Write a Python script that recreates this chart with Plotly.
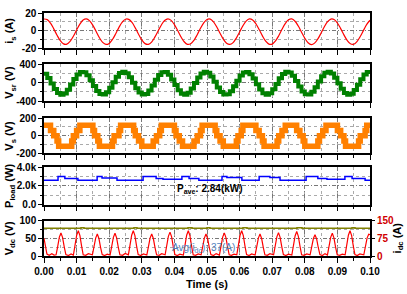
import numpy as np
import plotly.graph_objects as go

# ---------------- data ----------------
# sample grids in milliseconds
t_1ms = np.arange(0, 101) * 1.0
t_05ms = np.arange(0, 201) * 0.5

# source current i_s (A), 1 ms samples
i_s = [13.2, 12.5, 8.5, 2.1, -5.1, -11.2, -14.9, -15.2, -12.1, -6.3,
       0.8, 7.4, 12.0, 13.3, 11.1, 6.0, -0.9, -7.9, -13.2, -15.5,
       -14.3, -9.9, -3.4, 3.8, 9.7, 13.0, 12.8, 9.3, 3.2, -3.9,
       -10.4, -14.6, -15.4, -12.8, -7.3, -0.3, 6.5, 11.5, 13.4, 11.7,
       6.9, 0.2, -6.9, -12.5, -15.4, -14.7, -10.8, -4.5, 2.7, 8.9,
       12.7, 13.1, 10.0, 4.2, -2.8, -9.5, -14.1, -15.5, -13.4, -8.3,
       -1.4, 5.5, 10.9, 13.3, 12.2, 7.9, 1.3, -5.8, -11.8, -15.1,
       -15.1, -11.6, -5.6, 1.6, 8.0, 12.3, 13.3, 10.7, 5.3, -1.7,
       -8.5, -13.6, -15.6, -14.0, -9.3, -2.6, 4.5, 10.2, 13.1, 12.6,
       8.7, 2.4, -4.7, -11.0, -14.8, -15.3, -12.3, -6.6, 0.4, 7.2,
       11.8]

# series converter voltage V_sr (V), 1 ms samples
v_sr = [196, 103, -17, -136, -224, -260, -234, -154, -39, 84,
        183, 236, 228, 162, 54, -69, -178, -246, -257, -207,
        -109, 14, 130, 212, 240, 207, 121, 3, -119, -213,
        -258, -243, -170, -58, 65, 170, 231, 233, 176, 73,
        -50, -163, -239, -259, -218, -126, -6, 113, 202, 240,
        216, 137, 22, -101, -201, -255, -249, -184, -77, 46,
        156, 225, 237, 188, 91, -31, -147, -231, -260, -228,
        -143, -26, 96, 191, 238, 223, 152, 41, -82, -188,
        -250, -254, -198, -96, 27, 141, 218, 239, 200, 109,
        -11, -131, -221, -260, -237, -160, -45, 78, 179, 234,
        230]

# converter voltage V_s (V), 0.5 ms samples
v_s = [120, 120, 120, 120, 60, 60, 0, 0, -60,
       -120, -120, -120, -120, -120, -120, -120, -120, -60, 0, 0, 60, 60,
       120, 120, 120, 120, 120, 120, 120, 120, 60, 0, 0, -60,
       -120, -120, -120, -120, -120, -120, -120, -120, -60, 0, 0, 0, 60,
       120, 120, 120, 120, 120, 120, 120, 120, 60, 0, 0, -60, -60,
       -120, -120, -120, -120, -120, -120, -120, -60, -60, 0, 0, 60,
       120, 120, 120, 120, 120, 120, 120, 120, 60, 0, 0, -60, -60,
       -120, -120, -120, -120, -120, -120, -120, -60, -60, 0, 0, 60,
       120, 120, 120, 120, 120, 120, 120, 120, 60, 0, 0, -60, -60,
       -120, -120, -120, -120, -120, -120, -120, -120, -60, 0, 0, 60,
       120, 120, 120, 120, 120, 120, 120, 120, 60, 60, 0, 0, -60,
       -120, -120, -120, -120, -120, -120, -120, -120, -60, 0, 0, 60, 60,
       120, 120, 120, 120, 120, 120, 120, 60, 60, 0, 0, -60,
       -120, -120, -120, -120, -120, -120, -120, -120, -60, 0, 0, 60, 60,
       120, 120, 120, 120, 120, 120, 120, 60, 60, 0, 0, -60,
       -120, -120, -120, -120, -120, -120, -120, -120, -60, 0, 0, 0, 60,
       120, 120, 120]

# load power (W), step changes at these times (s)
p_t = [0, 0.0043, 0.0064, 0.0104, 0.0163, 0.0178, 0.0224, 0.0304, 0.0344,
       0.0365, 0.0423, 0.0445, 0.0475, 0.0546, 0.0561, 0.0607, 0.0660,
       0.0693, 0.0724, 0.0804, 0.0840, 0.0868, 0.0923, 0.0945, 0.0985, 0.1]
p_load = [2600, 3000, 2800, 2600, 3000, 2850, 2600, 3000, 2800,
          2700, 3000, 2800, 2600, 3000, 2900, 2600, 3000,
          2900, 2600, 3000, 2800, 2700, 3000, 2800, 2600, 2600]

# dc-link voltage (V)
vdc_t = [0, 0.01135, 0.01227, 0.0276, 0.02853, 0.04417, 0.0454, 0.05, 0.0509,
         0.06104, 0.06227, 0.0776, 0.07914, 0.09448, 0.0954, 0.1]
v_dc = [78, 80, 78, 80, 78, 80, 78, 80, 78, 80, 78, 80, 78, 80, 78, 78]

# dc current i_dc (A), times in ms
idc_t = [0, 0.4, 0.9, 1.6, 2.4, 3.1,
         3.71, 4.21, 4.71, 5.21, 5.71, 6.21, 6.71, 7.5, 8.3,
         9.02, 9.52, 10.02, 10.52, 11.02, 11.52, 12.02, 12.8, 13.6,
         14.85, 15.35, 15.85, 16.35, 16.85, 17.35, 17.85, 18.6, 19.4,
         20.28, 20.78, 21.28, 21.78, 22.28, 22.78, 23.28, 24.1, 24.9,
         25.89, 26.39, 26.89, 27.39, 27.89, 28.39, 28.89, 29.7, 30.5,
         31.54, 32.04, 32.54, 33.04, 33.54, 34.04, 34.54, 35.3, 36.1,
         37.15, 37.65, 38.15, 38.65, 39.15, 39.65, 40.15, 40.9, 41.7,
         42.76, 43.26, 43.76, 44.26, 44.76, 45.26, 45.76, 46.5, 47.3,
         48.19, 48.69, 49.19, 49.69, 50.19, 50.69, 51.19, 52.0, 52.8,
         53.81, 54.31, 54.81, 55.31, 55.81, 56.31, 56.81, 57.5, 58.3,
         59.14, 59.64, 60.14, 60.64, 61.14, 61.64, 62.14, 62.9, 63.7,
         64.76, 65.26, 65.76, 66.26, 66.76, 67.26, 67.76, 68.5, 69.3,
         70.43, 70.93, 71.43, 71.93, 72.43, 72.93, 73.43, 74.2, 75.0,
         76.02, 76.52, 77.02, 77.52, 78.02, 78.52, 79.02, 79.8, 80.6,
         81.63, 82.13, 82.63, 83.13, 83.63, 84.13, 84.63, 85.4, 86.2,
         86.94, 87.44, 87.94, 88.44, 88.94, 89.44, 89.94, 90.7, 91.5,
         92.37, 92.87, 93.37, 93.87, 94.37, 94.87, 95.37, 96.1, 96.9,
         98.1, 98.6, 99.1, 99.6, 100.0]
i_dc = [75, 42, 8, 3, 10, 4,
        5, 41, 80, 98, 78, 39, 6, 2, 9,
        4, 45, 88, 107, 86, 43, 5, 3, 10,
        5, 39, 76, 93, 74, 37, 6, 2, 8,
        4, 40, 79, 96, 77, 38, 5, 3, 11,
        5, 45, 88, 107, 86, 43, 6, 2, 9,
        4, 39, 76, 93, 74, 37, 5, 3, 10,
        5, 42, 83, 101, 81, 40, 6, 2, 8,
        4, 45, 88, 107, 86, 43, 5, 3, 9,
        5, 39, 76, 93, 74, 37, 6, 2, 10,
        4, 41, 80, 98, 78, 39, 5, 3, 8,
        5, 45, 88, 107, 86, 43, 6, 2, 9,
        4, 39, 76, 93, 74, 37, 5, 3, 10,
        5, 42, 81, 99, 79, 40, 6, 2, 8,
        4, 44, 85, 104, 83, 42, 5, 3, 9,
        5, 38, 74, 90, 72, 36, 6, 2, 10,
        4, 40, 79, 96, 77, 38, 5, 3, 8,
        5, 45, 88, 107, 86, 43, 6, 2, 9,
        5, 40, 76, 92, 90]

x_ticks = [0.00, 0.01, 0.02, 0.03, 0.04, 0.05, 0.06, 0.07, 0.08, 0.09, 0.10]

# ---------------- layout helpers ----------------
FONT = "Liberation Sans, Arial, sans-serif"
W, H = 407, 294
L, R, T, B = 44, 37, 7, 38
PW = W - L - R
PH = H - T - B


def py(p):
    return (H - B - p) / PH


def px(p):
    return (p - L) / PW


panels = [(7.0, 43.3), (59.7, 97.3), (114.7, 150.7), (165.0, 203.3), (219.7, 256.0)]
yranges = [[-20, 20], [-400, 400], [-200, 200], [0, 4000], [0, 100]]
ytickvals = [[-20, 0, 20], [-400, 0, 400], [-200, 0, 200], [0, 2000, 4000], [0, 50, 100]]
yticktext = [["-20", "0", "20"], ["-400", "0", "400"], ["-200", "0", "200"],
             ["0.0", "2.0k", "4.0k"], ["0", "50", "100"]]
yminor = [[-10, 10], [-200, 200], [-100, 100], [1000, 3000], [25, 75]]

GRID_MAJ = "#777777"
GRID_MIN = "#AAAAAA"
DASHDOT = "4px,2px,1px,2px"

fig = go.Figure()

fig.add_trace(go.Scatter(x=t_1ms / 1000, y=i_s, xaxis="x", yaxis="y", mode="lines",
                         line=dict(color="#FF0000", width=1.2, shape="spline")))
fig.add_trace(go.Scatter(x=t_1ms / 1000, y=v_sr, xaxis="x2", yaxis="y2", mode="lines",
                         line=dict(color="#008000", width=4, shape="hv")))
fig.add_trace(go.Scatter(x=t_05ms / 1000, y=v_s, xaxis="x3", yaxis="y3", mode="lines",
                         line=dict(color="#FF8000", width=5.5, shape="hv")))
fig.add_trace(go.Scatter(x=p_t, y=p_load, xaxis="x4", yaxis="y4", mode="lines",
                         line=dict(color="#0000FF", width=1.5, shape="hv")))
fig.add_trace(go.Scatter(x=vdc_t, y=v_dc, xaxis="x5", yaxis="y5", mode="lines",
                         line=dict(color="#808000", width=1.5, shape="hv")))
fig.add_trace(go.Scatter(x=np.array(idc_t) / 1000, y=i_dc, xaxis="x5", yaxis="y6", mode="lines",
                         line=dict(color="#FF0000", width=1.2)))

tickfont = dict(family=FONT, size=10, color="black", weight="bold")
layout = dict(
    width=W, height=H,
    margin=dict(l=L, r=R, t=T, b=B, pad=0),
    paper_bgcolor="white", plot_bgcolor="white",
    showlegend=False,
    font=dict(family=FONT, size=10, color="black"),
)

for k in range(1, 6):
    xs = "" if k == 1 else str(k)
    ys = "" if k == 1 else str(k)
    top, bot = panels[k - 1]
    layout["xaxis" + xs] = dict(
        domain=[0, 1], anchor="y" + ys, range=[0, 0.1],
        matches=None if k == 1 else "x",
        showline=True, mirror=True, linecolor="black", linewidth=1.5,
        ticks="outside", ticklen=5, tickwidth=1, tickcolor="black",
        tickvals=x_ticks, tickformat=".2f",
        showticklabels=(k == 5), tickfont=tickfont,
        showgrid=True, gridcolor=GRID_MAJ, gridwidth=1, griddash=DASHDOT,
        zeroline=False,
        minor=dict(dtick=0.005, tick0=0, ticks="outside", ticklen=3, tickcolor="black",
                   showgrid=True, gridcolor=GRID_MIN, griddash="dot", gridwidth=1),
    )
    layout["yaxis" + ys] = dict(
        domain=[py(bot), py(top)], anchor="x" + xs, range=yranges[k - 1],
        showline=True, mirror=True, linecolor="black", linewidth=1.5,
        ticks="outside", ticklen=4, tickwidth=1, tickcolor="black",
        tickvals=ytickvals[k - 1], ticktext=yticktext[k - 1], tickfont=tickfont,
        showgrid=True, gridcolor=GRID_MAJ, gridwidth=1, griddash=DASHDOT,
        zeroline=False,
        minor=dict(tickvals=yminor[k - 1], ticks="outside", ticklen=2, tickcolor="black",
                   showgrid=True, gridcolor=GRID_MIN, griddash="dot", gridwidth=1),
    )

layout["yaxis6"] = dict(
    overlaying="y5", side="right", anchor="x5", range=[0, 150],
    tickvals=[0, 75, 150], ticktext=["0", "75", "150"],
    tickfont=dict(family=FONT, size=10, color="#D00000", weight="bold"),
    ticks="outside", ticklen=4, tickcolor="black", showgrid=False, zeroline=False,
    showline=False,
)

ttl = dict(family=FONT, size=11, color="black", weight="bold")
ytitles = ["i<sub>s</sub> (A)", "V<sub>sr</sub> (V)", "V<sub>s</sub> (V)",
           "P<sub>load</sub> (W)", "V<sub>dc</sub> (V)"]
ann = []
for k, txt in enumerate(ytitles):
    top, bot = panels[k]
    ann.append(dict(text=txt, xref="paper", yref="paper", x=px(10), y=py((top + bot) / 2),
                    textangle=-90, showarrow=False, xanchor="center", yanchor="middle", font=ttl))
ann.append(dict(text="i<sub>dc</sub> (A)", xref="paper", yref="paper", x=px(398), y=py(238),
                textangle=-90, showarrow=False, xanchor="center", yanchor="middle", font=ttl))
ann.append(dict(text="P<sub>ave</sub>: 2.84(kW)", xref="paper", yref="paper", x=px(210), y=py(187),
                showarrow=False, xanchor="center", yanchor="middle",
                font=dict(family=FONT, size=10, color="black", weight="bold")))
ann.append(dict(text="Avg(i<sub>dc</sub>): 37(A)", xref="paper", yref="paper", x=px(203), y=py(248),
                showarrow=False, xanchor="center", yanchor="middle",
                font=dict(family=FONT, size=10, color="#4F81BD")))
ann.append(dict(text="Time (s)", xref="paper", yref="paper", x=0.5, y=py(285),
                showarrow=False, xanchor="center", yanchor="middle", font=ttl))
layout["annotations"] = ann

fig.update_layout(**layout)
fig.write_html("out.html")
